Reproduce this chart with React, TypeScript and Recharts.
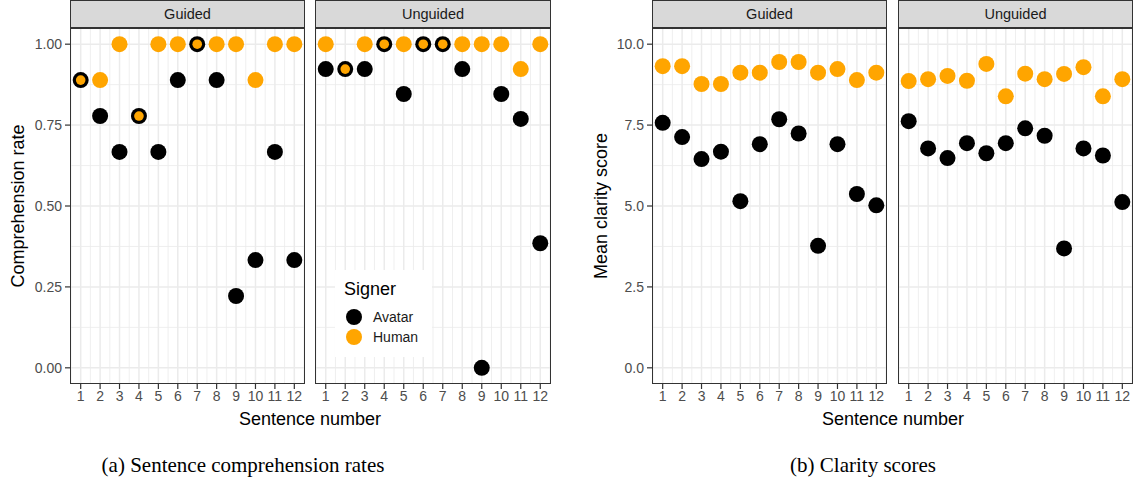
import React from "react";
import {
  ScatterChart,
  Scatter,
  XAxis,
  YAxis,
  ReferenceLine,
} from "recharts";

const sentences = [1, 2, 3, 4, 5, 6, 7, 8, 9, 10, 11, 12];

// comprehension rate (a)
const compGuidedAvatar = [0.889, 0.778, 0.667, 0.778, 0.667, 0.889, 1.0, 0.889, 0.222, 0.333, 0.667, 0.333];
const compGuidedHuman = [0.889, 0.889, 1.0, 0.778, 1.0, 1.0, 1.0, 1.0, 1.0, 0.889, 1.0, 1.0];
const compUnguidedAvatar = [0.923, 0.923, 0.923, 1.0, 0.846, 1.0, 1.0, 0.923, 0.0, 0.846, 0.769, 0.385];
const compUnguidedHuman = [1.0, 0.923, 1.0, 1.0, 1.0, 1.0, 1.0, 1.0, 1.0, 1.0, 0.923, 1.0];

// mean clarity score (b)
const clarGuidedAvatar = [7.57, 7.13, 6.45, 6.68, 5.15, 6.91, 7.68, 7.24, 3.77, 6.91, 5.37, 5.02];
const clarGuidedHuman = [9.32, 9.32, 8.77, 8.77, 9.12, 9.12, 9.45, 9.45, 9.12, 9.23, 8.89, 9.12];
const clarUnguidedAvatar = [7.62, 6.78, 6.48, 6.94, 6.63, 6.94, 7.4, 7.17, 3.69, 6.78, 6.56, 5.12];
const clarUnguidedHuman = [8.86, 8.92, 9.02, 8.87, 9.39, 8.39, 9.09, 8.92, 9.08, 9.29, 8.39, 8.92];

const compTicks = [0, 0.25, 0.5, 0.75, 1];
const compMinor = [0.125, 0.375, 0.625, 0.875];
const clarTicks = [0, 2.5, 5, 7.5, 10];
const clarMinor = [1.25, 3.75, 6.25, 8.75];
const xMinor = [0.5, 1.5, 2.5, 3.5, 4.5, 5.5, 6.5, 7.5, 8.5, 9.5, 10.5, 11.5, 12.5];

const AVATAR = "#000000";
const HUMAN = "#FFA500";
const SANS = "'Liberation Sans', Arial, sans-serif";

const PLOT_TOP = 28;
const PLOT_H = 356;
const AXIS_W = 62;

type PanelProps = {
  left: number;
  width: number;
  label: string;
  avatar: number[];
  human: number[];
  domain: [number, number];
  ticks: number[];
  minor: number[];
  digits: number;
  showY: boolean;
};

function Panel({ left, width, label, avatar, human, domain, ticks, minor, digits, showY }: PanelProps) {
  const avatarData = sentences.map((s, i) => ({ x: s, y: avatar[i] }));
  const humanData = sentences.map((s, i) => ({ x: s, y: human[i], both: avatar[i] === human[i] }));
  const axisW = showY ? AXIS_W : 0;

  return (
    <>
      <div
        style={{
          position: "absolute",
          left,
          top: 0,
          width,
          height: PLOT_TOP,
          boxSizing: "border-box",
          background: "#d9d9d9",
          border: "1px solid #333",
          fontFamily: SANS,
          fontSize: 14.5,
          color: "#1a1a1a",
          textAlign: "center",
          lineHeight: "26px",
        }}
      >
        {label}
      </div>
      <div style={{ position: "absolute", left: left - axisW, top: PLOT_TOP }}>
        <ScatterChart
          width={width + axisW}
          height={PLOT_H + 26}
          margin={{ top: 0, right: 0, bottom: 0, left: 0 }}
        >
          <XAxis
            type="number"
            dataKey="x"
            domain={[0.45, 12.55]}
            ticks={sentences}
            interval={0}
            allowDataOverflow
            axisLine={false}
            tickSize={5}
            tickMargin={2}
            tickLine={{ stroke: "#333", strokeWidth: 1.2 }}
            tick={{ fill: "#4d4d4d", fontSize: 14, fontFamily: SANS }}
            height={26}
          />
          <YAxis
            type="number"
            dataKey="y"
            domain={domain}
            ticks={ticks}
            interval={0}
            allowDataOverflow
            hide={!showY}
            width={axisW}
            axisLine={false}
            tickSize={5}
            tickMargin={3}
            tickLine={{ stroke: "#333", strokeWidth: 1.2 }}
            tick={{ fill: "#4d4d4d", fontSize: 14, fontFamily: SANS }}
            tickFormatter={(v: number) => v.toFixed(digits)}
          />
          {xMinor.map((v) => (
            <ReferenceLine key={"xm" + v} x={v} stroke="#ebebeb" strokeWidth={0.8} />
          ))}
          {minor.map((v) => (
            <ReferenceLine key={"ym" + v} y={v} stroke="#ebebeb" strokeWidth={0.8} />
          ))}
          {sentences.map((v) => (
            <ReferenceLine key={"xM" + v} x={v} stroke="#ebebeb" strokeWidth={1.5} />
          ))}
          {ticks.map((v) => (
            <ReferenceLine key={"yM" + v} y={v} stroke="#ebebeb" strokeWidth={1.5} />
          ))}
          <Scatter
            name="Avatar"
            data={avatarData}
            fill={AVATAR}
            isAnimationActive={false}
            shape={(p: any) => <circle cx={p.cx} cy={p.cy} r={8} fill={AVATAR} />}
          />
          <Scatter
            name="Human"
            data={humanData}
            fill={HUMAN}
            isAnimationActive={false}
            shape={(p: any) => (
              <circle
                cx={p.cx}
                cy={p.cy}
                r={p.payload && p.payload.both ? 4.8 : 8}
                fill={HUMAN}
              />
            )}
          />
        </ScatterChart>
      </div>
      <div
        style={{
          position: "absolute",
          left,
          top: PLOT_TOP,
          width,
          height: PLOT_H,
          boxSizing: "border-box",
          border: "1.3px solid #333",
          pointerEvents: "none",
        }}
      />
    </>
  );
}

function Legend() {
  const item = (color: string, text: string, top: number) => (
    <div style={{ position: "absolute", left: 0, top, height: 20, width: 97 }}>
      <div
        style={{
          position: "absolute",
          left: 11,
          top: 2,
          width: 16,
          height: 16,
          borderRadius: 8,
          background: color,
        }}
      />
      <div
        style={{
          position: "absolute",
          left: 38,
          top: 0,
          fontSize: 14,
          lineHeight: "20px",
          color: "#1a1a1a",
        }}
      >
        {text}
      </div>
    </div>
  );
  return (
    <div
      style={{
        position: "absolute",
        left: 335,
        top: 270,
        width: 97,
        height: 87,
        background: "#fff",
        fontFamily: SANS,
      }}
    >
      <div style={{ position: "absolute", left: 9, top: 9, fontSize: 18, color: "#000" }}>Signer</div>
      {item(AVATAR, "Avatar", 37)}
      {item(HUMAN, "Human", 57)}
    </div>
  );
}

function AxisTitles({ yTitle, yCenterX, xCenter }: { yTitle: string; yCenterX: number; xCenter: number }) {
  return (
    <>
      <div
        style={{
          position: "absolute",
          left: yCenterX - 150,
          top: PLOT_TOP + PLOT_H / 2 - 11,
          width: 300,
          height: 22,
          textAlign: "center",
          transform: "rotate(-90deg)",
          fontFamily: SANS,
          fontSize: 18,
          lineHeight: "22px",
          color: "#000",
        }}
      >
        {yTitle}
      </div>
      <div
        style={{
          position: "absolute",
          left: xCenter - 150,
          top: 408,
          width: 300,
          textAlign: "center",
          fontFamily: SANS,
          fontSize: 18,
          lineHeight: "22px",
          color: "#000",
        }}
      >
        Sentence number
      </div>
    </>
  );
}

export default function App() {
  return (
    <div
      style={{
        position: "absolute",
        left: 0,
        top: 0,
        width: 1135,
        height: 487,
        background: "#fff",
        overflow: "hidden",
      }}
    >
      <Panel
        left={70}
        width={235}
        label="Guided"
        avatar={compGuidedAvatar}
        human={compGuidedHuman}
        domain={[-0.05, 1.05]}
        ticks={compTicks}
        minor={compMinor}
        digits={2}
        showY
      />
      <Panel
        left={315}
        width={236}
        label="Unguided"
        avatar={compUnguidedAvatar}
        human={compUnguidedHuman}
        domain={[-0.05, 1.05]}
        ticks={compTicks}
        minor={compMinor}
        digits={2}
        showY={false}
      />
      <Legend />
      <AxisTitles yTitle="Comprehension rate" yCenterX={18} xCenter={310} />

      <Panel
        left={652}
        width={235}
        label="Guided"
        avatar={clarGuidedAvatar}
        human={clarGuidedHuman}
        domain={[-0.5, 10.5]}
        ticks={clarTicks}
        minor={clarMinor}
        digits={1}
        showY
      />
      <Panel
        left={898}
        width={235}
        label="Unguided"
        avatar={clarUnguidedAvatar}
        human={clarUnguidedHuman}
        domain={[-0.5, 10.5]}
        ticks={clarTicks}
        minor={clarMinor}
        digits={1}
        showY={false}
      />
      <AxisTitles yTitle="Mean clarity score" yCenterX={601} xCenter={893} />

      <div
        style={{
          position: "absolute",
          left: 43,
          top: 453,
          width: 400,
          textAlign: "center",
          fontFamily: "'Liberation Serif', 'Times New Roman', serif",
          fontSize: 21,
          color: "#000",
        }}
      >
        (a) Sentence comprehension rates
      </div>
      <div
        style={{
          position: "absolute",
          left: 663,
          top: 453,
          width: 400,
          textAlign: "center",
          fontFamily: "'Liberation Serif', 'Times New Roman', serif",
          fontSize: 21,
          color: "#000",
        }}
      >
        (b) Clarity scores
      </div>
    </div>
  );
}
